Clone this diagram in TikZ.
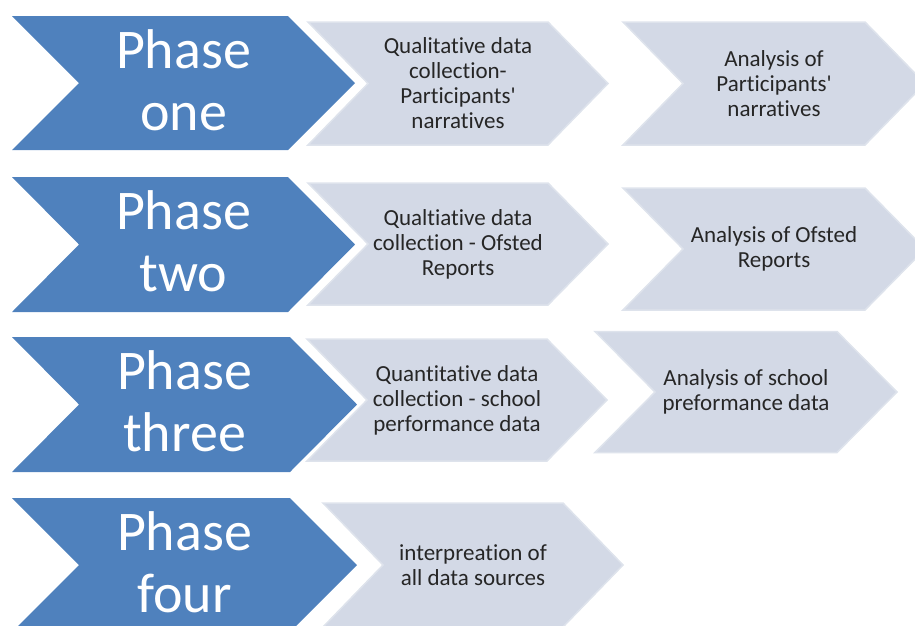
\documentclass[tikz,border=0pt]{standalone}
\usepackage{fontspec}
\setmainfont{Carlito}[Ligatures=NoCommon]
\definecolor{phaseblue}{HTML}{4F81BD}
\definecolor{stepgray}{HTML}{D3D9E6}
\definecolor{stepedge}{HTML}{DEE3EC}
\definecolor{textgray}{HTML}{262626}

% chevron: style, centre name, left x, depth, shoulder x, middle y, half height
\newcommand{\chevron}[7]{%
  \path[#1] (#3,#6-#7) -- (#5,#6-#7) -- (#5+#4,#6) -- (#5,#6+#7)
    -- (#3,#6+#7) -- (#3+#4,#6) -- cycle;
  \coordinate (#2) at ({(#3+#4+#5)/2},#6);}

\begin{document}
\begin{tikzpicture}[x=1pt, y=-1pt,
    bluechev/.style={fill=phaseblue},
    graychev/.style={fill=stepgray, draw=stepedge, line width=1.5pt},
    phasetext/.style={align=center, text=white, yshift=3pt, font=\fontsize{56}{62}\selectfont},
    datatext/.style={align=center, text=textgray, font=\fontsize{23}{25}\selectfont}
]
\useasboundingbox (0,0) rectangle (915,625);

% Phase one
\chevron{bluechev}{one}{12}{67}{288}{83}{67}
\chevron{graychev}{collectone}{308}{60}{548}{83.5}{61.5}
\chevron{graychev}{analysisone}{623}{60}{865}{83.5}{61.5}
\node[phasetext] (phaseone) at (one) {Phase\\one};
\node[datatext] (collectonetext) at (collectone) {Qualitative data\\collection-\\Participants\textquotesingle\\narratives};
\node[datatext] (analysisonetext) at (analysisone) {Analysis of\\Participants\textquotesingle\\narratives};

% Phase two
\chevron{bluechev}{two}{12}{67}{288}{244.5}{67.5}
\chevron{graychev}{collecttwo}{308}{60}{548}{244}{61}
\chevron{graychev}{analysistwo}{623}{60}{865}{249}{61}
\node[phasetext] (phasetwo) at (two) {Phase\\two};
\node[datatext] (collecttwotext) at (collecttwo) {Qualtiative data\\collection - Ofsted\\Reports};
\node[datatext] (analysistwotext) at (analysistwo) {Analysis of Ofsted\\Reports};

% Phase three
\chevron{bluechev}{three}{12}{67}{290}{404.5}{67.5}
\chevron{graychev}{collectthree}{307}{60}{547}{400}{61}
\chevron{graychev}{analysisthree}{595}{60}{837}{392}{60.5}
\node[phasetext] (phasethree) at (three) {Phase\\three};
\node[datatext] (collectthreetext) at (collectthree) {Quantitative data\\collection - school\\performance data};
\node[datatext] (analysisthreetext) at (analysisthree) {Analysis of school\\preformance data};

% Phase four
\chevron{bluechev}{four}{12}{67}{290}{565}{67}
\chevron{graychev}{collectfour}{323}{60}{563}{565}{62}
\node[phasetext] (phasefour) at (four) {Phase\\four};
\node[datatext] (collectfourtext) at (collectfour) {interpreation of\\all data sources};
\end{tikzpicture}
\end{document}
